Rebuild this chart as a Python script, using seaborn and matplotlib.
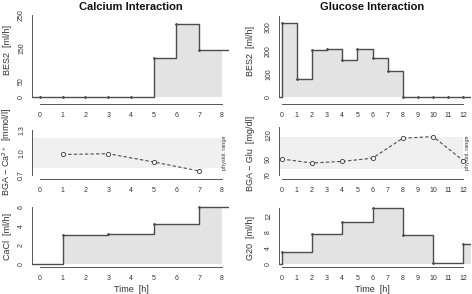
import numpy as np
import pandas as pd
import matplotlib
matplotlib.use("Agg")
import matplotlib.pyplot as plt
import seaborn as sns

sns.set_theme(style="white")
plt.rcParams['font.family'] = ['Liberation Sans', 'DejaVu Sans']
plt.rcParams['mathtext.fontset'] = 'custom'
plt.rcParams['mathtext.rm'] = 'Liberation Sans'
plt.rcParams['mathtext.it'] = 'Liberation Sans'

# ---------------- data ----------------
ca_time = [0, 1, 2, 3, 4, 5, 6, 7]
ca_bes2 = [0, 0, 0, 0, 0, 120, 222, 145]
ca_bga_time = [1, 3, 5, 7]
ca_bga = [0.98, 0.99, 0.88, 0.76]
cacl_time = [1, 3, 5, 7]
cacl = [3.1, 3.2, 4.2, 6.0]

glu_time = [0, 1, 2, 3, 4, 5, 6, 7, 8, 9, 10, 11, 12]
glu_bes2 = [320, 78, 205, 208, 158, 208, 168, 112, 0, 0, 0, 0, 0]
glu_bga_time = [0, 2, 4, 6, 8, 10, 12]
glu_bga = [90, 85, 87, 91, 116, 118, 88]
g20_time = [0, 2, 4, 6, 8, 10, 12]
g20 = [3.1, 7.4, 10.6, 14.0, 7.25, 0.3, 5.0]

ca_range = (0.8, 1.2)
glu_range = (78, 117)

left_xticks = list(range(0, 9))
right_xticks = list(range(0, 13))

W, H = 472, 294
LINE = '#4d4d4d'
FILL = '#e3e3e3'
BAND = '#f0f0f0'
AX = '#555555'
TXT = '#333333'

fig = plt.figure(figsize=(W / 100, H / 100), dpi=100)


def add_ax(l, r, t, b):
    return fig.add_axes([l / W, 1 - b / H, (r - l) / W, (b - t) / H])


def style(ax, xlim, ylim, xticks, yticks, ylabels):
    ax.set_xlim(*xlim)
    ax.set_ylim(*ylim)
    for s in ['top', 'right']:
        ax.spines[s].set_visible(False)
    for s in ['left', 'bottom']:
        ax.spines[s].set_color(AX)
        ax.spines[s].set_linewidth(0.7)
    ax.spines['bottom'].set_bounds(xticks[0], xticks[-1])
    ax.spines['left'].set_bounds(yticks[0], yticks[-1])
    ax.set_xticks(xticks)
    ax.set_xticklabels([str(v) for v in xticks], fontsize=5, color=TXT)
    ax.set_yticks(yticks)
    ax.set_yticklabels(ylabels, fontsize=5, color=TXT, rotation=90, va='center')
    ax.tick_params(axis='both', direction='out', length=2.5, width=0.6, color=AX, pad=2.5)
    ax.tick_params(axis='x', pad=3)
    ax.set_xlabel('')
    ax.set_ylabel('')
    ax.patch.set_alpha(0)


def step_panel(ax, times, vals, xlim, fill_end, lead_zero_from_edge):
    xs = [xlim[0]] + list(times) + [xlim[1]]
    ys = [0] + list(vals) + [vals[-1]]
    fx = list(times) + [fill_end]
    fy = list(vals) + [vals[-1]]
    ax.fill_between(fx, fy, 0, step='post', color=FILL, lw=0)
    df = pd.DataFrame({'x': xs, 'y': ys})
    sns.lineplot(data=df, x='x', y='y', drawstyle='steps-post', color=LINE, lw=1.0,
                 estimator=None, sort=False, ax=ax)
    sns.scatterplot(x=list(times), y=list(vals), s=3, color='black', linewidth=0, ax=ax)


def bga_panel(ax, times, vals, rng, xlim, band_end):
    ax.fill_between([xlim[0], band_end], rng[0], rng[1], color=BAND, lw=0)
    df = pd.DataFrame({'x': times, 'y': vals})
    sns.lineplot(data=df, x='x', y='y', color=LINE, lw=0.8, linestyle=(0, (3, 2)),
                 marker='o', markersize=3, markerfacecolor='white',
                 markeredgecolor=LINE, markeredgewidth=0.7, ax=ax)


# ---------------- left column ----------------
lx = (-0.35, 8.31)
ax1 = add_ax(32, 229, 10, 104)
step_panel(ax1, ca_time, ca_bes2, lx, 8, True)
style(ax1, lx, (-20.4, 265.2), left_xticks, [0, 50, 100, 150, 200, 250],
      ['0', '50', '', '150', '', '250'])

ax2 = add_ax(32, 229, 122, 179)
bga_panel(ax2, ca_bga_time, ca_bga, ca_range, lx, 8)
style(ax2, lx, (0.653, 1.413), left_xticks, [0.7, 0.85, 1.0, 1.15, 1.3],
      ['0.7', '', '1.0', '', '1.3'])
ax2.text(8.12, 1.0, 'physiol. range', rotation=90, fontsize=4, color=TXT,
         ha='center', va='center')

ax3 = add_ax(32, 229, 200, 267)
step_panel(ax3, cacl_time, cacl, lx, 8, True)
style(ax3, lx, (-0.317, 6.77), left_xticks, [0, 1, 2, 3, 4, 5, 6],
      ['0', '', '2', '', '4', '', '6'])

# ---------------- right column ----------------
rx = (-0.18, 12.51)
ax4 = add_ax(279, 471, 10, 104)
step_panel(ax4, glu_time, glu_bes2, rx, rx[1], True)
style(ax4, rx, (-28.8, 374.7), right_xticks, [0, 50, 100, 150, 200, 250, 300, 350],
      ['0', '', '100', '', '200', '', '300', ''])

ax5 = add_ax(279, 471, 122, 179)
bga_panel(ax5, glu_bga_time, glu_bga, glu_range, rx, 12)
style(ax5, rx, (65, 136.25), right_xticks, [70, 80, 90, 100, 110, 120, 130],
      ['70', '', '90', '', '', '120', ''])
ax5.text(12.25, 97.5, 'physiol. range', rotation=90, fontsize=4, color=TXT,
         ha='center', va='center')

ax6 = add_ax(279, 471, 200, 267)
step_panel(ax6, g20_time, g20, rx, rx[1], True)
style(ax6, rx, (-0.75, 16), right_xticks, [0, 2, 4, 6, 8, 10, 12, 14],
      ['0', '', '4', '', '8', '', '12', ''])

# ---------------- titles & labels ----------------
def ftext(x, y, s, **kw):
    fig.text(x / W, 1 - y / H, s, **kw)

ftext(131, 7, 'Calcium Interaction', fontsize=8, fontweight='bold', ha='center', va='center', color='#111111')
ftext(372, 7, 'Glucose Interaction', fontsize=8, fontweight='bold', ha='center', va='center', color='#111111')

ylab_kw = dict(fontsize=6.5, rotation=90, ha='center', va='center', color=TXT)
ftext(7.5, 50, 'BES2  [ml/h]', **ylab_kw)
ftext(250, 50.5, 'BES2  [ml/h]', **ylab_kw)
ftext(7.5, 152, 'BGA \u2212 Ca$^{2+}$  [mmol/l]', **ylab_kw)
ftext(250, 153, 'BGA \u2212 Glu  [mg/dl]', **ylab_kw)
ftext(7.5, 236, 'CaCl  [ml/h]', **ylab_kw)
ftext(250, 238, 'G20  [ml/h]', **ylab_kw)

ftext(131, 289, 'Time  [h]', fontsize=6.5, ha='center', va='center', color=TXT)
ftext(372, 289, 'Time  [h]', fontsize=6.5, ha='center', va='center', color=TXT)

fig.savefig('out.png', dpi=100)
